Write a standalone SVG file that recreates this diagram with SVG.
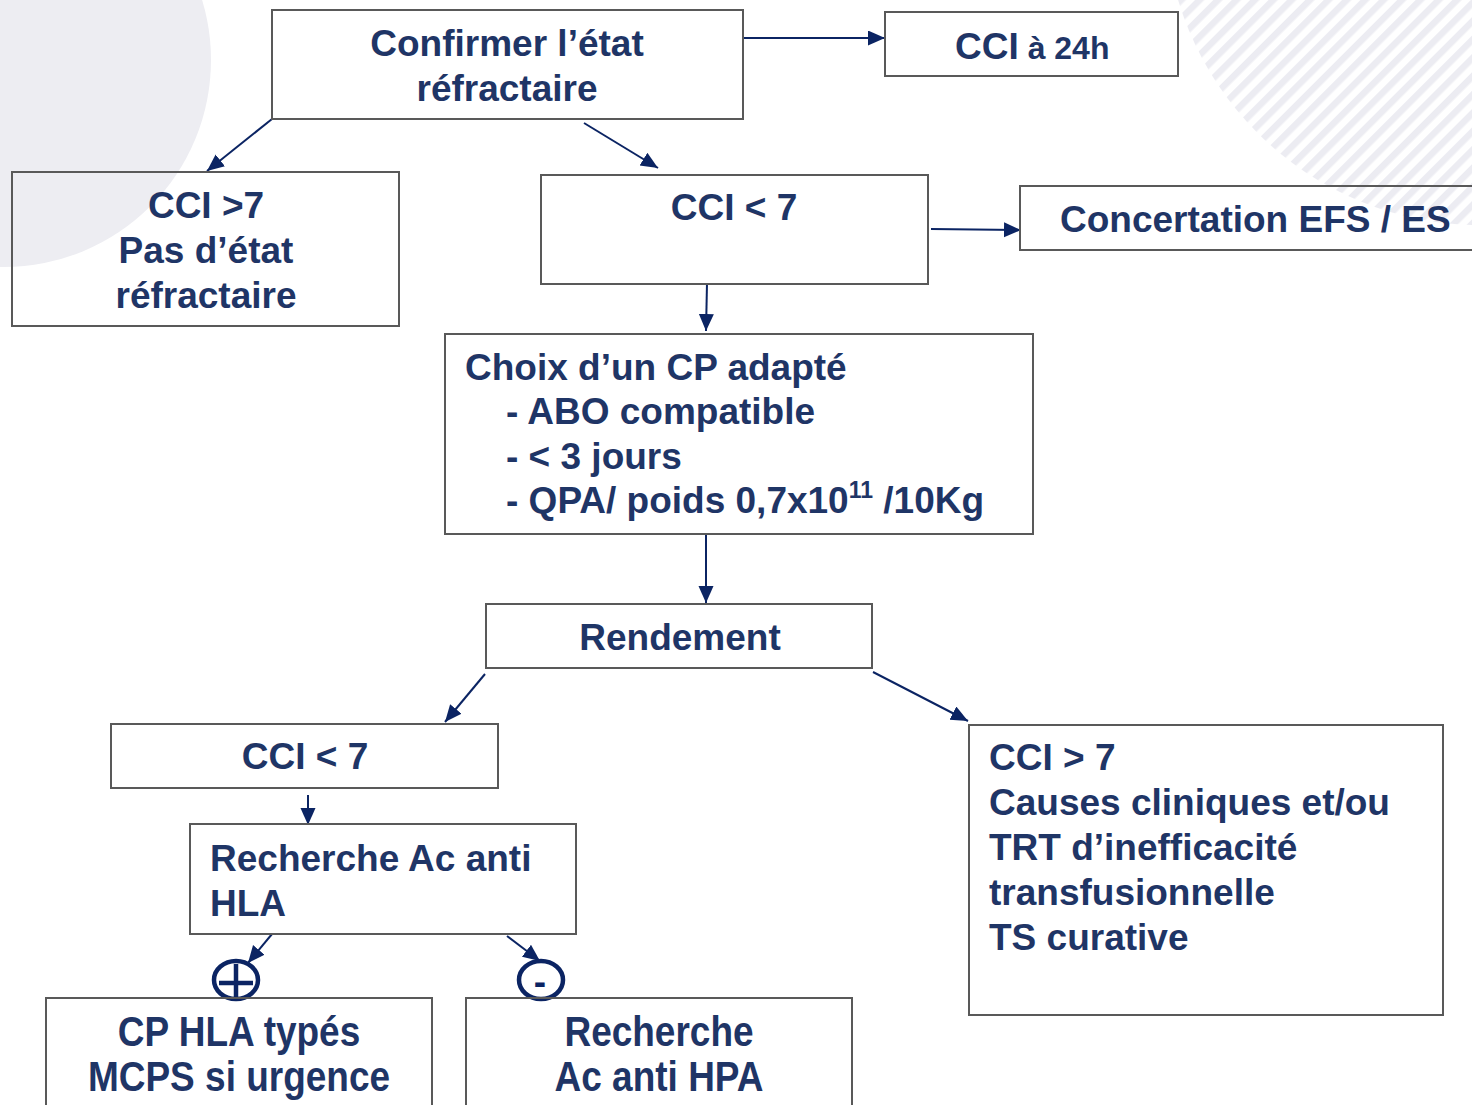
<svg xmlns="http://www.w3.org/2000/svg" width="1472" height="1105" viewBox="0 0 1472 1105">
<style>
.box{fill:none;stroke:#595959;stroke-width:2}
.t{font-family:"Liberation Sans",Arial,sans-serif;font-weight:bold;font-size:37px;fill:#1F3566}
.c{text-anchor:middle}
.conn line{stroke:#0B2463;stroke-width:2;marker-end:url(#ah)}
.sym{fill:none;stroke:#0B2463;stroke-width:4.5}
</style>
<defs>
<marker id="ah" markerUnits="userSpaceOnUse" markerWidth="18" markerHeight="16" refX="17" refY="7.5" orient="auto">
<path d="M0,0 L17,7.5 L0,15 z" fill="#0B2463"/>
</marker>
<pattern id="hatch" patternUnits="userSpaceOnUse" width="13" height="13" patternTransform="rotate(45)">
<rect x="0" y="0" width="6.5" height="13" fill="#ECECF2"/>
</pattern>
</defs>
<rect width="1472" height="1105" fill="#FFFFFF"/>
<circle cx="4" cy="60" r="207" fill="#EDEDF2"/>
<circle cx="1480" cy="-90" r="315" fill="url(#hatch)"/>

<g class="conn">
<line x1="743" y1="38" x2="885" y2="38"/>
<line x1="272" y1="119" x2="207" y2="171"/>
<line x1="584" y1="123" x2="658" y2="168"/>
<line x1="931" y1="229" x2="1021" y2="230"/>
<line x1="707" y1="283" x2="706" y2="331"/>
<line x1="706" y1="534" x2="706" y2="603"/>
<line x1="485" y1="674" x2="445" y2="722"/>
<line x1="873" y1="672" x2="968" y2="721"/>
<line x1="308" y1="795" x2="308" y2="825"/>
<line x1="272" y1="934" x2="248" y2="963"/>
<line x1="507" y1="936" x2="540" y2="961"/>
</g>

<g id="n-confirmer">
<rect class="box" x="272" y="10" width="471" height="109"/>
<text class="t c" x="507" y="56">Confirmer l’état</text>
<text class="t c" x="507" y="101">réfractaire</text>
</g>
<g id="n-cci24">
<rect class="box" x="885" y="12" width="293" height="64"/>
<text class="t" x="955" y="59">CCI<tspan font-size="32"> à 24h</tspan></text>
</g>
<g id="n-cci-sup7-a">
<rect class="box" x="12" y="172" width="387" height="154"/>
<text class="t c" x="206" y="218">CCI &gt;7</text>
<text class="t c" x="206" y="263">Pas d’état</text>
<text class="t c" x="206" y="308">réfractaire</text>
</g>
<g id="n-cci-inf7-a">
<rect class="box" x="541" y="175" width="387" height="109"/>
<text class="t c" x="734" y="220">CCI &lt; 7</text>
</g>
<g id="n-concertation">
<rect class="box" x="1020" y="186" width="470" height="64"/>
<text class="t" x="1060" y="232">Concertation EFS / ES</text>
</g>
<g id="n-choix">
<rect class="box" x="445" y="334" width="588" height="200"/>
<text class="t" x="465" y="380">Choix d’un CP adapté</text>
<text class="t" x="506" y="424">- ABO compatible</text>
<text class="t" x="506" y="469">- &lt; 3 jours</text>
<text class="t" x="506" y="513">- QPA/ poids 0,7x10<tspan font-size="23" dy="-15">11</tspan><tspan dy="15"> /10Kg</tspan></text>
</g>
<g id="n-rendement">
<rect class="box" x="486" y="604" width="386" height="64"/>
<text class="t c" x="680" y="650">Rendement</text>
</g>
<g id="n-cci-inf7-b">
<rect class="box" x="111" y="724" width="387" height="64"/>
<text class="t c" x="305" y="769">CCI &lt; 7</text>
</g>
<g id="n-recherche-hla">
<rect class="box" x="190" y="824" width="386" height="110"/>
<text class="t" x="210" y="871">Recherche Ac anti</text>
<text class="t" x="210" y="916">HLA</text>
</g>
<g id="n-cci-sup7-b">
<rect class="box" x="969" y="725" width="474" height="290"/>
<text class="t" x="989" y="770">CCI &gt; 7</text>
<text class="t" x="989" y="815">Causes cliniques et/ou</text>
<text class="t" x="989" y="860">TRT d’inefficacité</text>
<text class="t" x="989" y="905">transfusionnelle</text>
<text class="t" x="989" y="950">TS curative</text>
</g>
<g id="n-plus">
<ellipse class="sym" cx="236" cy="980" rx="22" ry="19"/>
<line class="sym" x1="236" y1="964" x2="236" y2="998" stroke-width="3.5"/>
<line class="sym" x1="219" y1="983" x2="253" y2="983" stroke-width="3.5"/>
</g>
<g id="n-minus">
<ellipse class="sym" cx="541" cy="980" rx="22" ry="19"/>
<text class="t c" x="540" y="994" style="fill:#0B2463">-</text>
</g>
<g id="n-cp-hla">
<rect class="box" x="46" y="998" width="386" height="130"/>
<text class="t c" font-size="36" transform="translate(239,1046) scale(1,1.15)">CP HLA typés</text>
<text class="t c" font-size="36" transform="translate(239,1091) scale(1,1.15)">MCPS si urgence</text>
</g>
<g id="n-recherche-hpa">
<rect class="box" x="466" y="998" width="386" height="130"/>
<text class="t c" font-size="36" transform="translate(659,1046) scale(1,1.15)">Recherche</text>
<text class="t c" font-size="36" transform="translate(659,1091) scale(1,1.15)">Ac anti HPA</text>
</g>
</svg>
